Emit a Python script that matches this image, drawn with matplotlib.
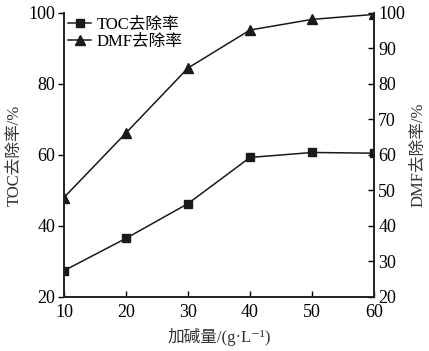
import matplotlib
matplotlib.use("Agg")
import matplotlib.pyplot as plt

plt.rcParams['font.family'] = ['Liberation Serif', 'Noto Sans CJK SC', 'DejaVu Sans']

dose = [10, 20, 30, 40, 50, 60]
toc_removal = [27.4, 36.5, 46.3, 59.3, 60.7, 60.5]
dmf_removal = [48.0, 66.2, 84.5, 95.2, 98.2, 99.6]

fig = plt.figure(figsize=(4.29, 3.51), dpi=100)
ax = fig.add_axes([0.149, 0.154, 0.723, 0.809])
ax2 = ax.twinx()

l1, = ax.plot(dose, toc_removal, color='#1a1a1a', lw=1.1, marker='s', ms=6, label='TOC去除率')
l2, = ax2.plot(dose, dmf_removal, color='#1a1a1a', lw=1.1, marker='^', ms=6.5, label='DMF去除率')

ax.set_xlim(10, 60)
ax.set_ylim(20, 100)
ax2.set_ylim(20, 100)
ax.set_xticks([10, 20, 30, 40, 50, 60])
ax.set_yticks([20, 40, 60, 80, 100])
ax2.set_yticks(range(20, 101, 10))

for a in (ax, ax2):
    a.spines['top'].set_visible(False)
    for s in a.spines.values():
        s.set_linewidth(1.2)
        s.set_color('#222222')

ax.tick_params(axis='y', direction='out', length=4, width=1, labelsize=13, pad=2)
ax.tick_params(axis='x', direction='in', length=4, width=1, labelsize=13, pad=5)
ax2.tick_params(axis='y', direction='in', length=4, width=1, labelsize=13, pad=3)

ax.set_xlabel('加碱量/(g·L⁻¹)', fontsize=12, color='#333333', labelpad=5)
ax.set_ylabel('TOC去除率/%', fontsize=12, color='#333333', labelpad=4)
ax2.set_ylabel('DMF去除率/%', fontsize=12, color='#333333', rotation=90, labelpad=4)

ax.legend([l1, l2], ['TOC去除率', 'DMF去除率'], loc='upper left', bbox_to_anchor=(-0.035, 1.04),
          frameon=False, fontsize=12, handlelength=1.4, handletextpad=0.3, labelspacing=0.1)

fig.savefig('out.png', dpi=100)
